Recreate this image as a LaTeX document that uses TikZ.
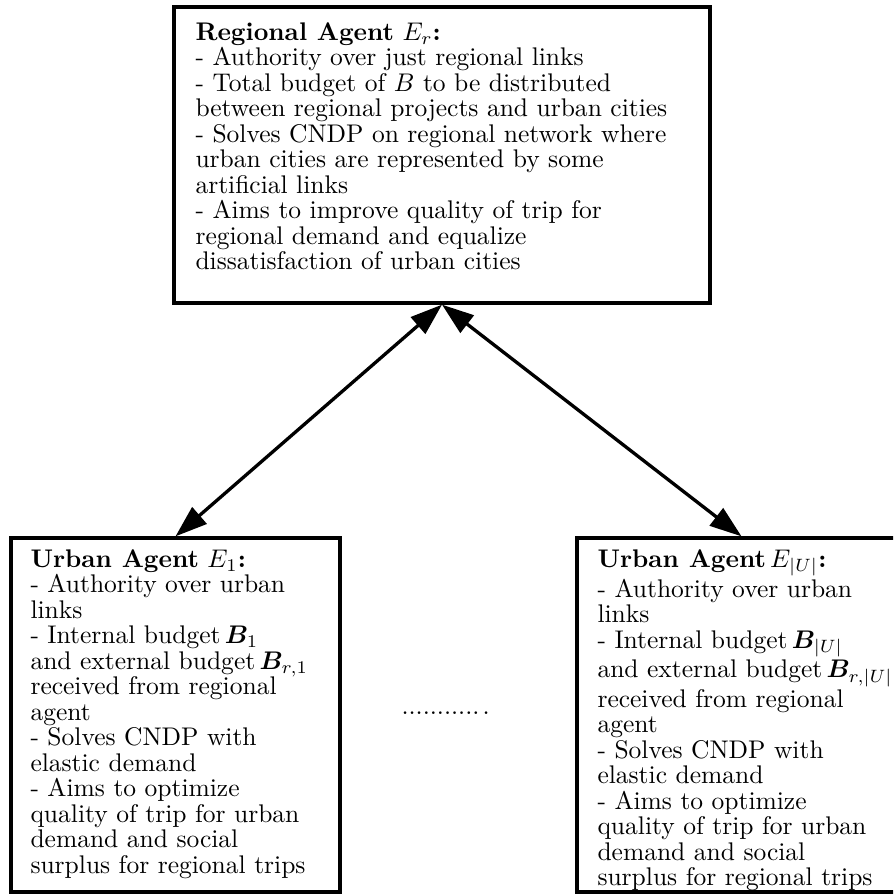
\documentclass[tikz,border=0pt]{standalone}
\usepackage{bm}
\usetikzlibrary{arrows.meta}
% one drawing unit = one pixel of the 893 x 896 canvas
\def\pxu{0.392pt}
\tikzset{
  agentbox/.style={draw, line width=1.3pt, inner sep=0pt},
  agenttext/.style={anchor=north west, inner sep=0pt, align=left,
    font=\fontsize{10}{10}\selectfont},
  link/.style={line width=1.3pt,
    {Triangle[length=12.5pt,width=8.5pt]}-{Triangle[length=12.5pt,width=8.5pt]}},
}
\begin{document}
\begin{tikzpicture}[x=\pxu, y=-\pxu]
\useasboundingbox (0,0) rectangle (893,896);
\clip (0,0) rectangle (893,896);

% frames of the three agents
\node[agentbox, minimum width={536*\pxu}, minimum height={296*\pxu}] (regional) at (442,155) {};
\node[agentbox, minimum width={329*\pxu}, minimum height={354*\pxu}] (urbanA) at (175.5,715) {};
\node[agentbox, minimum width={329*\pxu}, minimum height={354*\pxu}] (urbanU) at (741.5,715) {};

% descriptions
\node[agenttext] (regionaltext) at (195,22) {%
\textbf{Regional Agent} $E_r$\textbf{:}\\
- Authority over just regional links\\
- Total budget of $B$ to be distributed\\
between regional projects and urban cities\\
- Solves CNDP on regional network where\\
urban cities are represented by some\\
artificial links\\
- Aims to improve quality of trip for\\
regional demand and equalize\\
dissatisfaction of urban cities};

\node[agenttext] (urbanAtext) at (30,549) {%
\textbf{Urban Agent} $E_1$\textbf{:}\\
- Authority over urban\\
links\\
- Internal budget\,$\bm{B}_1$\\
and external budget\,$\bm{B}_{r,1}$\\
received from regional\\
agent\\
- Solves CNDP with\\
elastic demand\\
- Aims to optimize\\
quality of trip for urban\\
demand and social\\
surplus for regional trips};

\node[agenttext] (urbanUtext) at (597,549) {%
\textbf{Urban Agent}\,$E_{|U|}$\textbf{:}\\
- Authority over urban\\
links\\
- Internal budget\,$\bm{B}_{|U|}$\\
and external budget\,$\bm{B}_{r,|U|}$\\
received from regional\\
agent\\
- Solves CNDP with\\
elastic demand\\
- Aims to optimize\\
quality of trip for urban\\
demand and social\\
surplus for regional trips};

% the agents left out between the two urban ones
\node[anchor=base west, inner sep=0pt, font=\fontsize{10}{10}\selectfont] (dots) at (401,714) {...........\kern1.2pt.};

% two-way links between the regional and the urban agents
\draw[link] (regional.south) -- (urbanA.north);
\draw[link] (regional.south) -- (urbanU.north);
\end{tikzpicture}
\end{document}
